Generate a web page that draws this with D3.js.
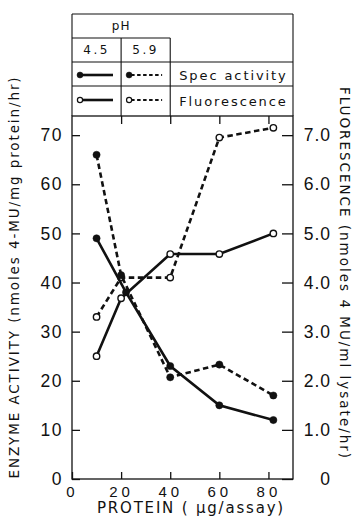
<!DOCTYPE html>
<html>
<head>
<meta charset="utf-8">
<script src="https://cdn.jsdelivr.net/npm/d3@7"></script>
<style>
  body { margin: 0; background: #fff; }
  svg { display: block; font-family: 'DejaVu Sans', sans-serif; }
</style>
</head>
<body>
<div id="chart"></div>
<script>
// values
const protein = [10, 20, 40, 60, 82];
const proteinSpec45 = [10, 22, 40, 60, 82];
const specAct45 = [49, 38, 23, 15, 12];
const specAct59 = [66, 41.5, 20.7, 23.3, 17];
const fluor45 = [2.5, 3.68, 4.58, 4.58, 5.0];
const fluor59 = [3.3, 4.1, 4.1, 6.95, 7.15];
const xTicks = [0, 20, 40, 60, 80];
const leftTicks = [0, 10, 20, 30, 40, 50, 60, 70];
const rightTicks = [0, 1, 2, 3, 4, 5, 6, 7];
const phLabels = ['4.5', '5.9'];
const seriesLabels = ['Spec activity', 'Fluorescence'];

const W = 356, H = 522;
const pLeft = 72, pRight = 293, pTop = 116, pBottom = 479;
const ink = '#111';

const svg = d3.select('#chart').append('svg')
  .attr('width', W)
  .attr('height', H);

const x = d3.scaleLinear().domain([0, 90]).range([pLeft, pRight]);
const yL = d3.scaleLinear().domain([0, 73.9]).range([pBottom, pTop]);
const yR = d3.scaleLinear().domain([0, 7.39]).range([pBottom, pTop]);

// plot frame
svg.append('rect')
  .attr('x', pLeft).attr('y', pTop)
  .attr('width', pRight - pLeft).attr('height', pBottom - pTop)
  .attr('fill', 'none').attr('stroke', ink).attr('stroke-width', 1.3);

const styleAxis = (g, size, spacing) => {
  g.select('.domain').remove();
  g.selectAll('line').attr('stroke', ink).attr('stroke-width', 1.3);
  g.selectAll('text')
    .attr('fill', ink)
    .style('font-size', size + 'px')
    .style('letter-spacing', spacing + 'px');
};

svg.append('g')
  .attr('transform', `translate(${pLeft},0)`)
  .call(d3.axisLeft(yL).tickValues(leftTicks).tickSize(-8).tickPadding(9).tickFormat(d3.format('d')))
  .call(g => styleAxis(g, 17.5, 1.5));

svg.append('g')
  .attr('transform', `translate(${pRight},0)`)
  .call(d3.axisRight(yR).tickValues(rightTicks).tickSize(-11).tickPadding(6)
    .tickFormat(d => d === 0 ? '0' : d.toFixed(1)))
  .call(g => styleAxis(g, 17.5, 1))
  .call(g => g.selectAll('text').attr('text-anchor', 'end').attr('x', 38));

svg.append('g')
  .attr('transform', `translate(0,${pBottom})`)
  .call(d3.axisBottom(x).tickValues(xTicks).tickSize(-7).tickPadding(7).tickFormat(d3.format('d')))
  .call(g => styleAxis(g, 15, 4));

svg.append('g')
  .attr('transform', `translate(0,${pTop})`)
  .call(d3.axisTop(x).tickValues(xTicks.slice(1)).tickSize(-8).tickFormat(''))
  .call(g => styleAxis(g, 10, 0));

// axis titles
svg.append('text')
  .attr('transform', `translate(19,${(pBottom + 75) / 2}) rotate(-90)`)
  .attr('text-anchor', 'middle')
  .style('font-size', '13.5px')
  .style('letter-spacing', '1.9px')
  .attr('fill', ink)
  .text('ENZYME ACTIVITY (nmoles 4-MU/mg protein/hr)');

svg.append('text')
  .attr('transform', `translate(340,${(82 + 465) / 2}) rotate(90)`)
  .attr('text-anchor', 'middle')
  .style('font-size', '13.5px')
  .style('letter-spacing', '2px')
  .attr('fill', ink)
  .text('FLUORESCENCE (nmoles 4 MU/ml lysate/hr)');

svg.append('text')
  .attr('x', 191).attr('y', 513)
  .attr('text-anchor', 'middle')
  .style('font-size', '15px')
  .style('letter-spacing', '1.8px')
  .attr('fill', ink)
  .text('PROTEIN ( μg/assay)');

// series
const series = [
  { xs: protein, ys: fluor59.map(v => yR(v)), dashed: true, filled: false },
  { xs: protein, ys: fluor45.map(v => yR(v)), dashed: false, filled: false },
  { xs: protein, ys: specAct59.map(v => yL(v)), dashed: true, filled: true },
  { xs: proteinSpec45, ys: specAct45.map(v => yL(v)), dashed: false, filled: true }
];

const line = d3.line().x(d => d[0]).y(d => d[1]);

series.forEach(s => {
  const pts = s.xs.map((v, i) => [x(v), s.ys[i]]);
  svg.append('path')
    .attr('d', line(pts))
    .attr('fill', 'none')
    .attr('stroke', ink)
    .attr('stroke-width', 2.6)
    .attr('stroke-dasharray', s.dashed ? '5.5,3.5' : null);
  svg.append('g')
    .selectAll('circle')
    .data(pts)
    .enter()
    .append('circle')
    .attr('cx', d => d[0])
    .attr('cy', d => d[1])
    .attr('r', s.filled ? 3.6 : 3.2)
    .attr('fill', s.filled ? ink : '#fff')
    .attr('stroke', ink)
    .attr('stroke-width', s.filled ? 0.5 : 1.4);
});

// legend table above plot
const lg = svg.append('g');
const c1 = x(20), c2 = x(40);
const rows = [14, 38, 62, 86, pTop];
const seg = (x1, y1, x2, y2) => lg.append('line')
  .attr('x1', x1).attr('y1', y1).attr('x2', x2).attr('y2', y2)
  .attr('stroke', ink).attr('stroke-width', 1.1);

seg(pLeft, rows[0], pRight, rows[0]);
seg(pLeft, rows[0], pLeft, pTop);
seg(pRight, rows[0], pRight, pTop);
seg(pLeft, rows[1], c2, rows[1]);
seg(pLeft, rows[2], pRight, rows[2]);
seg(pLeft, rows[3], pRight, rows[3]);
seg(c1, rows[1], c1, pTop);
seg(c2, rows[1], c2, pTop);

lg.append('text')
  .attr('x', c1).attr('y', 30)
  .attr('text-anchor', 'middle')
  .style('font-size', '12px')
  .style('letter-spacing', '1px')
  .attr('fill', ink)
  .text('pH');

lg.selectAll('.ph')
  .data(phLabels)
  .enter()
  .append('text')
  .attr('x', (d, i) => i === 0 ? (pLeft + c1) / 2 : (c1 + c2) / 2)
  .attr('y', 54)
  .attr('text-anchor', 'middle')
  .style('font-size', '12px')
  .style('letter-spacing', '2.5px')
  .attr('fill', ink)
  .text(d => d);

lg.selectAll('.lab')
  .data(seriesLabels)
  .enter()
  .append('text')
  .attr('x', c2 + 9)
  .attr('y', (d, i) => i === 0 ? 80 : 106)
  .style('font-size', '13px')
  .style('letter-spacing', '1.9px')
  .attr('fill', ink)
  .text(d => d);

[0, 1].forEach(r => {
  const cy = r === 0 ? 75 : 100;
  [0, 1].forEach(c => {
    const x0 = c === 0 ? pLeft : c1;
    lg.append('line')
      .attr('x1', x0 + 10).attr('x2', x0 + 41)
      .attr('y1', cy).attr('y2', cy)
      .attr('stroke', ink)
      .attr('stroke-width', c === 0 ? 2.6 : 2)
      .attr('stroke-dasharray', c === 0 ? null : '3.5,2.5');
    lg.append('circle')
      .attr('cx', x0 + 8).attr('cy', cy)
      .attr('r', r === 0 ? 3 : 2.6)
      .attr('fill', r === 0 ? ink : '#fff')
      .attr('stroke', ink)
      .attr('stroke-width', r === 0 ? 0.5 : 1.2);
  });
});
</script>
</body>
</html>
